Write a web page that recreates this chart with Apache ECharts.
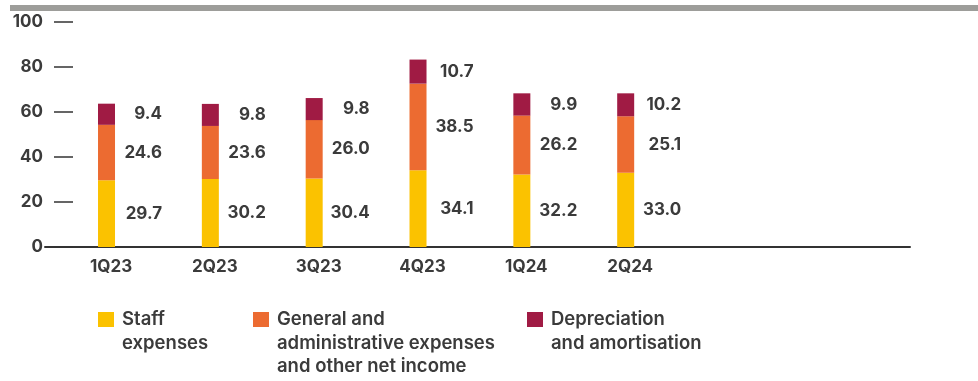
<!DOCTYPE html>
<html>
<head>
<meta charset="utf-8">
<script src="https://cdn.jsdelivr.net/npm/echarts@6/dist/echarts.min.js"></script>
<style>
  html, body { margin: 0; padding: 0; background: #ffffff; }
  #chart { width: 978px; height: 381px; }
</style>
</head>
<body>
<div id="chart"></div>
<script>
// Quarterly operating expenses, EUR millions
const quarters = ['1Q23', '2Q23', '3Q23', '4Q23', '1Q24', '2Q24'];
const staffExpenses = [29.7, 30.2, 30.4, 34.1, 32.2, 33.0];
const generalAdminExpenses = [24.6, 23.6, 26.0, 38.5, 26.2, 25.1];
const depreciationAmortisation = [9.4, 9.8, 9.8, 10.7, 9.9, 10.2];
const yTicks = [0, 20, 40, 60, 80, 100];

const seriesNames = [
  'Staff\nexpenses',
  'General and\nadministrative expenses\nand other net income',
  'Depreciation\nand amortisation'
];
const seriesColors = ['#fbc200', '#ec6b31', '#a01b44'];

const TEXT = '#3b3b3b';
const FONT = 'Inter';

const chart = echarts.init(document.getElementById('chart'), null, { renderer: 'canvas' });

function barSeries(name, values, color) {
  return {
    name: name,
    type: 'bar',
    stack: 'opex',
    barWidth: 17,
    xAxisIndex: 0,
    yAxisIndex: 0,
    data: values,
    itemStyle: { color: color },
    label: {
      show: true,
      position: [64, '50%'],
      align: 'right',
      verticalAlign: 'middle',
      color: TEXT,
      fontFamily: FONT,
      fontWeight: 700,
      fontSize: 17,
      formatter: p => p.value.toFixed(1)
    },
    emphasis: { disabled: true }
  };
}

// one legend block per series; blank lines above the name keep the icon
// level with the first line of a multi-line entry
function legendBlock(name, left) {
  const lh = 23.5;
  const lines = name.split('\n').length;
  const blockH = lh * (2 * lines - 1);
  return {
    data: [name],
    left: left,
    top: 319.5 - blockH / 2,
    orient: 'horizontal',
    padding: 0,
    itemWidth: 16,
    itemHeight: 15,
    icon: 'rect',
    selectedMode: false,
    formatter: n => '\n'.repeat(lines - 1) + n,
    textStyle: {
      color: TEXT,
      fontFamily: FONT,
      fontWeight: 600,
      fontSize: 18.5,
      lineHeight: lh,
      padding: [0, 0, 0, 3]
    }
  };
}

const option = {
  animation: false,
  backgroundColor: '#ffffff',
  graphic: [{
    type: 'rect',
    shape: { x: 10, y: 5, width: 968, height: 6 },
    style: { fill: '#9d9d9a' },
    silent: true
  }],
  legend: [
    legendBlock(seriesNames[0], 98),
    legendBlock(seriesNames[1], 253),
    legendBlock(seriesNames[2], 527)
  ],
  grid: [
    { left: 54.6, width: 623, top: 22, bottom: 134, containLabel: false },
    { left: 45, right: 68, top: 22, bottom: 134, containLabel: false }
  ],
  xAxis: [
    {
      type: 'category',
      gridIndex: 0,
      data: quarters,
      offset: 2.5,
      axisLine: { show: false },
      axisTick: { show: false },
      axisLabel: {
        color: TEXT,
        fontFamily: FONT,
        fontWeight: 700,
        fontSize: 17,
        margin: 9,
        padding: [0, 0, 0, 9]
      }
    },
    {
      type: 'value',
      gridIndex: 1,
      offset: 2.5,
      min: 0,
      max: 1,
      axisLine: { show: true, lineStyle: { color: '#333333', width: 2 } },
      axisTick: { show: false },
      axisLabel: { show: false },
      splitLine: { show: false }
    }
  ],
  yAxis: [
    {
      type: 'value',
      gridIndex: 0,
      min: 0,
      max: 100,
      interval: 20,
      offset: -18.4,
      axisLine: { show: false },
      axisTick: { show: true, length: 19, lineStyle: { color: '#333333', width: 1.5 } },
      splitLine: { show: false },
      axisLabel: {
        color: TEXT,
        fontFamily: FONT,
        fontWeight: 700,
        fontSize: 17,
        margin: 30,
        formatter: v => (yTicks.indexOf(v) >= 0 ? String(v) : '')
      }
    },
    {
      type: 'value',
      gridIndex: 1,
      min: 0,
      max: 100,
      show: false
    }
  ],
  series: [
    barSeries(seriesNames[0], staffExpenses, seriesColors[0]),
    barSeries(seriesNames[1], generalAdminExpenses, seriesColors[1]),
    barSeries(seriesNames[2], depreciationAmortisation, seriesColors[2])
  ]
};

chart.setOption(option);
</script>
</body>
</html>
